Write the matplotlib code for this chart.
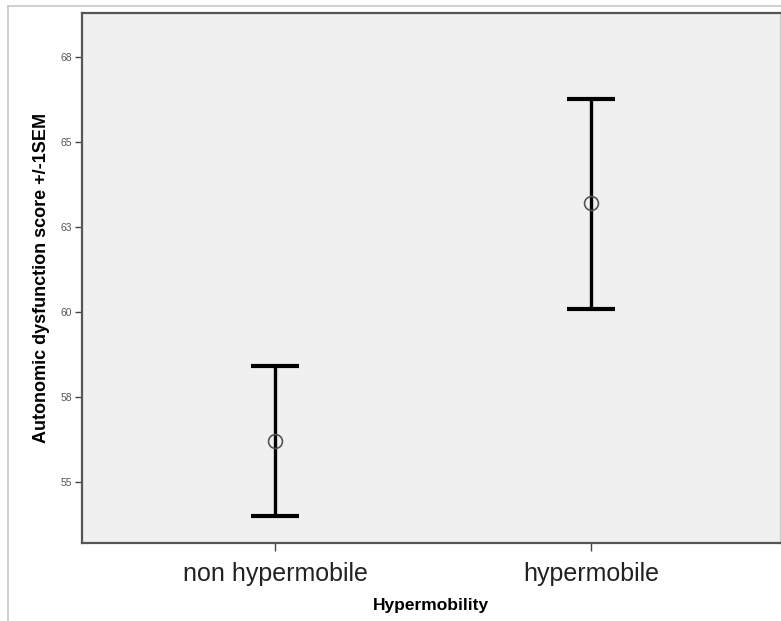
import matplotlib
matplotlib.use("Agg")
import matplotlib.pyplot as plt
from matplotlib.lines import Line2D

categories = ["non hypermobile", "hypermobile"]
means = [56.2, 63.2]
sem_upper = [58.4, 66.25]
sem_lower = [54.0, 60.1]
ytick_values = [55, 57.5, 60, 62.5, 65, 67.5]
ytick_labels = ["55", "58", "60", "63", "65", "68"]

fig = plt.figure(figsize=(7.81, 6.21), dpi=100)
fig.patch.set_facecolor("white")

# outer frame lines (chart border)
fig.add_artist(Line2D([8/781, 8/781], [0, 1 - 6/621], transform=fig.transFigure,
                      color="#c8c8c8", lw=1.2))
fig.add_artist(Line2D([8/781, 1], [1 - 6/621, 1 - 6/621], transform=fig.transFigure,
                      color="#c8c8c8", lw=1.2))

ax = fig.add_axes([82/781, 1 - 543/621, (780 - 82)/781, (543 - 13)/621])
ax.set_facecolor("#f0f0f0")

x = list(range(len(categories)))
yerr_low = [m - l for m, l in zip(means, sem_lower)]
yerr_high = [u - m for m, u in zip(means, sem_upper)]
ax.errorbar(x, means, yerr=[yerr_low, yerr_high], fmt="none", ecolor="black",
            elinewidth=2.4, capsize=17.5, capthick=3.0, zorder=2)
ax.plot(x, means, "o", ms=10, mfc="none", mec="#555555", mew=1.2, zorder=3)

ax.set_xlim(-0.613, 1.6)
ax.set_ylim(53.21, 68.79)
ax.set_yticks(ytick_values)
ax.set_yticklabels(ytick_labels, fontsize=7.5, color="#555555", family="Liberation Sans")
ax.set_xticks(x)
ax.set_xticklabels(categories, fontsize=18, family="Liberation Sans", color="#222222")
ax.tick_params(axis="y", length=5, width=1, color="#444444", pad=2)
ax.tick_params(axis="x", length=6, width=1, color="#444444", pad=8)

for side in ["left", "bottom", "top"]:
    ax.spines[side].set_color("#555555")
    ax.spines[side].set_linewidth(1.6)
ax.spines["right"].set_color("#cccccc")
ax.spines["right"].set_linewidth(1)

ax.set_ylabel("Autonomic dysfunction score +/-1SEM", fontsize=13, fontweight="bold",
              family="Liberation Sans", labelpad=8)
ax.set_xlabel("Hypermobility", fontsize=12.5, fontweight="bold",
              family="Liberation Sans", labelpad=8)

fig.savefig("out.png", dpi=100)
